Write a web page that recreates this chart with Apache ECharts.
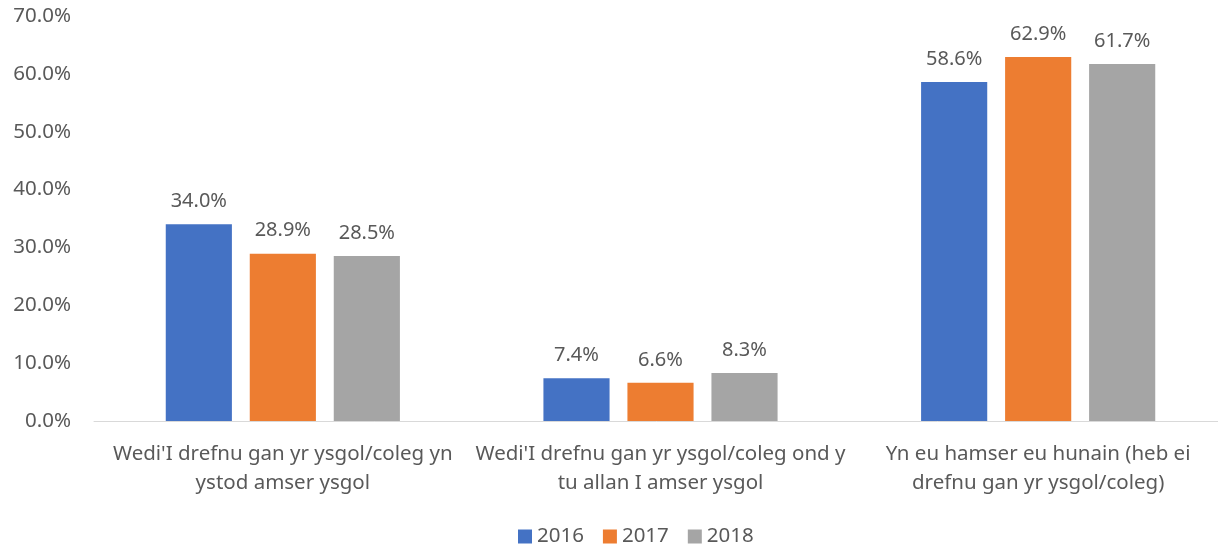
<!DOCTYPE html>
<html>
<head>
<meta charset="utf-8">
<script src="https://cdn.jsdelivr.net/npm/echarts@6/dist/echarts.min.js"></script>
<style>
  html, body { margin: 0; padding: 0; background: #fff; }
  #chart { width: 1218px; height: 547px; }
</style>
</head>
<body>
<div id="chart"></div>
<script>
// categories (x axis)
var categories = [
  "Wedi'I drefnu gan yr ysgol/coleg yn\nystod amser ysgol",
  "Wedi'I drefnu gan yr ysgol/coleg ond y\ntu allan I amser ysgol",
  "Yn eu hamser eu hunain (heb ei\ndrefnu gan yr ysgol/coleg)"
];
var years = ['2016', '2017', '2018'];
var colors = ['#4472C4', '#ED7D31', '#A5A5A5'];
// values in percent
var values2016 = [34.0, 7.4, 58.6];
var values2017 = [28.9, 6.6, 62.9];
var values2018 = [28.5, 8.3, 61.7];

var textColor = '#595959';
var fontFam = "'Noto Sans', sans-serif";
var fs = 20.5;

var chart = echarts.init(document.getElementById('chart'));

function makeSeries(name, data, color) {
  return {
    name: name,
    type: 'bar',
    data: data,
    barGap: '27%',
    barCategoryGap: '38%',
    itemStyle: { color: color },
    label: {
      show: true,
      position: 'top',
      distance: 13,
      color: textColor,
      fontSize: 20,
      fontFamily: fontFam,
      formatter: function (p) { return p.value.toFixed(1) + '%'; }
    }
  };
}

var option = {
  animation: false,
  grid: { left: 94, width: 1133, top: 16, bottom: 126, containLabel: false, outerBoundsMode: 'none' },
  legend: {
    data: years,
    bottom: -5,
    left: 513,
    itemWidth: 14,
    itemHeight: 14,
    itemGap: 19,
    icon: 'rect',
    textStyle: { color: textColor, fontSize: fs, fontFamily: fontFam }
  },
  xAxis: {
    type: 'category',
    data: categories,
    axisLine: { lineStyle: { color: '#D9D9D9', width: 1 } },
    axisTick: { show: false },
    axisLabel: {
      color: textColor,
      fontSize: fs,
      fontFamily: fontFam,
      lineHeight: 29,
      margin: 19,
      interval: 0
    }
  },
  yAxis: {
    type: 'value',
    min: 0,
    max: 70,
    interval: 10,
    splitLine: { show: false },
    axisLine: { show: false },
    axisTick: { show: false },
    axisLabel: {
      color: textColor,
      fontSize: fs,
      fontFamily: fontFam,
      margin: 23,
      formatter: function (v) { return v.toFixed(1) + '%'; }
    }
  },
  series: [
    makeSeries(years[0], values2016, colors[0]),
    makeSeries(years[1], values2017, colors[1]),
    makeSeries(years[2], values2018, colors[2])
  ]
};
chart.setOption(option);
</script>
</body>
</html>
